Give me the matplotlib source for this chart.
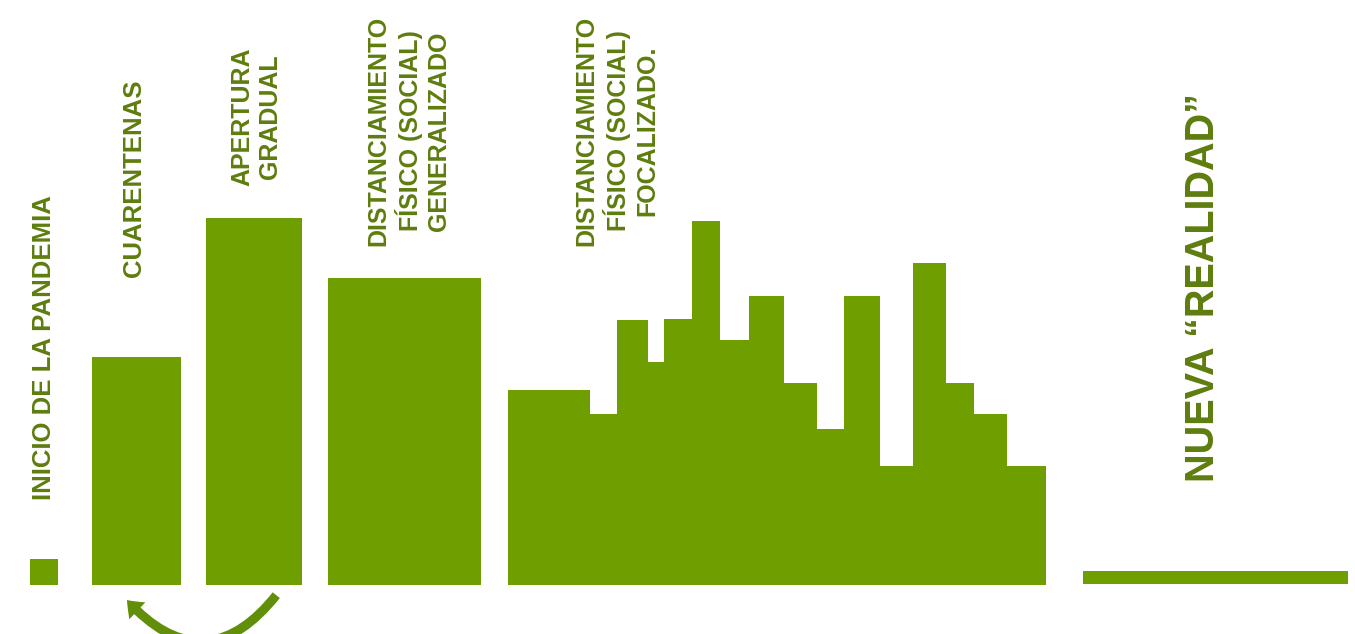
import numpy as np
import matplotlib
matplotlib.use("Agg")
import matplotlib.pyplot as plt
from matplotlib.patches import FancyArrowPatch

# ----- data -----
phase_labels = ["INICIO DE LA PANDEMIA", "CUARENTENAS", "APERTURA\nGRADUAL",
                "DISTANCIAMIENTO\nFÍSICO (SOCIAL)\nGENERALIZADO"]
phase_heights = [26, 228, 367, 307]

focal_label = "DISTANCIAMIENTO\nFÍSICO (SOCIAL)\nFOCALIZADO."
focal_heights = [195, 171, 265, 223, 266, 364, 245, 289, 202, 156, 289, 119, 322, 202, 171, 119]

final_label = "NUEVA “REALIDAD”"
final_height = 13

# ----- layout (canvas units, baseline at 0) -----
phase_x = [30, 92, 206, 328]
phase_w = [28, 89, 96, 153]
focal_edges = [508, 590, 617, 648, 664, 692, 720, 749, 784, 817, 844, 880, 913, 946, 974, 1007, 1046]
final_x, final_w = 1083, 265

BAR = "#6f9e00"
TXT = "#5e7d0e"
ARROW = "#628f0a"

fig = plt.figure(figsize=(13.55, 6.34), dpi=100)
ax = fig.add_axes([0, 0, 1, 1])
ax.set_xlim(0, 1355)
ax.set_ylim(-49, 585)
ax.axis("off")

ax.bar(phase_x, phase_heights, width=phase_w, align="edge", color=BAR, lw=0)
ax.stairs(focal_heights, focal_edges, fill=True, baseline=0, color=BAR, lw=0)
ax.bar(final_x, final_height, width=final_w, bottom=1, align="edge", color=BAR, lw=0)

font = dict(family=["Liberation Sans", "DejaVu Sans"], weight="bold", color=TXT,
            rotation=90, multialignment="center")
ax.text(44, 85, phase_labels[0], fontsize=18.5, ha="center", va="bottom", **font)
ax.text(134, 308, phase_labels[1], fontsize=18.5, ha="center", va="bottom", **font)
ax.text(256, 468, phase_labels[2], fontsize=18, ha="center", va="center", **font)
ax.text(409, 454, phase_labels[3], fontsize=18, ha="center", va="center", **font)
ax.text(617, 454, focal_label, fontsize=18, ha="center", va="center", **font)
ax.text(1203, 298, final_label, fontsize=28.5, ha="center", va="center", **font)

# curved arrow back from "apertura" to "cuarentenas"
arr = FancyArrowPatch((278, -8), (125, -13), connectionstyle="arc3,rad=-0.6",
                      arrowstyle="simple,head_length=0.9,head_width=1.4,tail_width=0.55",
                      mutation_scale=12, color=ARROW, lw=0)
ax.add_patch(arr)

fig.savefig("out.png", dpi=100, facecolor="white")
